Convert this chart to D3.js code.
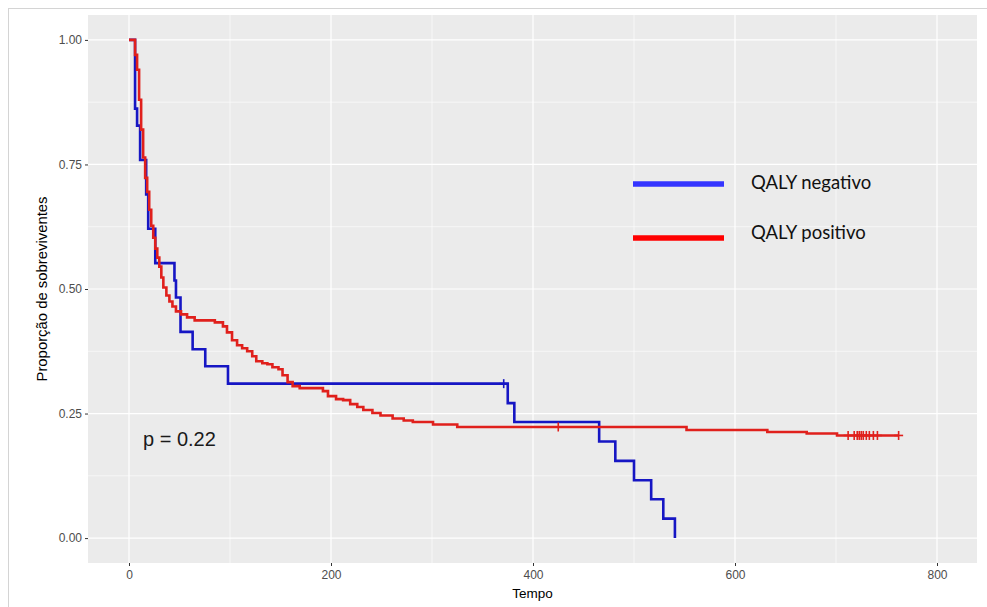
<!DOCTYPE html>
<html>
<head>
<meta charset="utf-8">
<script src="https://cdn.jsdelivr.net/npm/d3@7"></script>
<style>
  body { margin: 0; background: #fff; }
  svg { display: block; }
  .tick text { font-family: "Liberation Sans", Arial, sans-serif; font-size: 12px; fill: #4d4d4d; }
  .tick line { stroke: #333; }
</style>
</head>
<body>
<div id="chart"></div>
<script>
'use strict';

// QALY negativo (blue)
const negTimes = [0, 6, 8, 11, 17, 19, 26, 45, 46.5, 51, 63, 75.5, 98, 375, 381.5, 465.5, 481.5, 500, 517, 529, 540.5];
const negSurv = [1, 0.862, 0.828, 0.759, 0.690, 0.621, 0.552, 0.517, 0.483, 0.414, 0.379, 0.345, 0.310, 0.271, 0.233, 0.194, 0.155, 0.116, 0.078, 0.039, 0];
const negCensor = [371];

// QALY positivo (red)
const posTimes = [0, 6, 8, 10, 12, 14, 16, 18, 20, 22, 24, 26, 28, 30, 32, 34, 37, 40, 43, 46.5, 51.5, 57.5, 65, 85, 93, 97,
  102, 107, 112, 117, 122, 126, 132, 137, 142, 148, 152, 157, 162, 169, 192, 197, 205, 212, 219, 226, 232, 241, 249,
  261, 272, 281, 301, 325, 552, 632, 671, 701, 762];
const posSurv = [1, 0.970, 0.940, 0.880, 0.820, 0.764, 0.723, 0.695, 0.659, 0.627, 0.603, 0.581, 0.563, 0.545, 0.523, 0.503,
  0.487, 0.475, 0.465, 0.455, 0.449, 0.443, 0.437, 0.433, 0.425, 0.413, 0.397, 0.387, 0.381, 0.375, 0.365, 0.355,
  0.351, 0.349, 0.343, 0.339, 0.327, 0.313, 0.305, 0.301, 0.295, 0.285, 0.279, 0.277, 0.269, 0.263, 0.257, 0.251,
  0.246, 0.240, 0.236, 0.233, 0.228, 0.223, 0.217, 0.213, 0.210, 0.206, 0.206];
const posCensor = [425, 712, 718, 721, 723, 725, 727, 730, 733, 737, 741, 762];

const xTicks = [0, 200, 400, 600, 800];
const xMinor = [100, 300, 500, 700];
const yTicks = [0, 0.25, 0.5, 0.75, 1];
const yMinor = [0.125, 0.375, 0.625, 0.875];

const legendLabels = ["QALY negativo", "QALY positivo"];
const pValueText = "p = 0.22";

(function () {
	const width = 987, height = 607;
	const panel = {left: 88, right: 977, top: 15, bottom: 563};

	const svg = d3.select("#chart").append("svg")
		.attr("width", width)
		.attr("height", height);

	// screenshot frame
	svg.append("rect")
		.attr("x", 8.5).attr("y", 8.5)
		.attr("width", 1000).attr("height", 700)
		.attr("fill", "none")
		.attr("stroke", "#d4d4d4");

	const x = d3.scaleLinear().domain([-40.6, 839.6]).range([panel.left, panel.right]);
	const y = d3.scaleLinear().domain([-0.05, 1.05]).range([panel.bottom, panel.top]);

	svg.append("rect")
		.attr("x", panel.left).attr("y", panel.top)
		.attr("width", panel.right - panel.left)
		.attr("height", panel.bottom - panel.top)
		.attr("fill", "#ebebeb");

	const grid = svg.append("g").attr("stroke", "#fff");
	grid.selectAll("line.xminor").data(xMinor).enter().append("line")
		.attr("x1", d => x(d)).attr("x2", d => x(d))
		.attr("y1", panel.top).attr("y2", panel.bottom)
		.attr("stroke-width", 0.6);
	grid.selectAll("line.yminor").data(yMinor).enter().append("line")
		.attr("y1", d => y(d)).attr("y2", d => y(d))
		.attr("x1", panel.left).attr("x2", panel.right)
		.attr("stroke-width", 0.6);
	grid.selectAll("line.xmajor").data(xTicks).enter().append("line")
		.attr("x1", d => x(d)).attr("x2", d => x(d))
		.attr("y1", panel.top).attr("y2", panel.bottom)
		.attr("stroke-width", 1.2);
	grid.selectAll("line.ymajor").data(yTicks).enter().append("line")
		.attr("y1", d => y(d)).attr("y2", d => y(d))
		.attr("x1", panel.left).attr("x2", panel.right)
		.attr("stroke-width", 1.2);

	// axes
	const xAxis = svg.append("g")
		.attr("transform", `translate(0, ${panel.bottom})`)
		.call(d3.axisBottom(x).tickValues(xTicks).tickFormat(d3.format("d")).tickSize(3).tickPadding(4));
	xAxis.select(".domain").remove();

	const yAxis = svg.append("g")
		.attr("transform", `translate(${panel.left}, 0)`)
		.call(d3.axisLeft(y).tickValues(yTicks).tickFormat(d3.format(".2f")).tickSize(3).tickPadding(3));
	yAxis.select(".domain").remove();

	svg.append("text")
		.attr("x", (panel.left + panel.right) / 2)
		.attr("y", 598)
		.attr("text-anchor", "middle")
		.style("font-family", "Liberation Sans, Arial, sans-serif")
		.style("font-size", "13.5px")
		.text("Tempo");

	svg.append("text")
		.attr("transform", `translate(47, ${(panel.top + panel.bottom) / 2}) rotate(-90)`)
		.attr("text-anchor", "middle")
		.attr("textLength", 185)
		.attr("lengthAdjust", "spacingAndGlyphs")
		.style("font-family", "Liberation Sans, Arial, sans-serif")
		.style("font-size", "14px")
		.text("Proporção de sobreviventes");

	// survival curves
	const line = d3.line()
		.x(d => x(d[0]))
		.y(d => y(d[1]))
		.curve(d3.curveStepAfter);

	const series = [
		{times: negTimes, surv: negSurv, censor: negCensor, color: "#1616c4"},
		{times: posTimes, surv: posSurv, censor: posCensor, color: "#e0201c"}
	];

	const survAt = (s, t) => {
		let v = 1;
		s.times.forEach((tt, i) => { if (tt <= t) v = s.surv[i]; });
		return v;
	};

	series.forEach(s => {
		const pts = s.times.map((t, i) => [t, s.surv[i]]);
		svg.append("path")
			.datum(pts)
			.attr("d", line)
			.attr("fill", "none")
			.attr("stroke", s.color)
			.attr("stroke-width", 2.6);

		const g = svg.append("g").attr("stroke", s.color).attr("stroke-width", 1.6);
		s.censor.forEach(t => {
			const cx = x(t), cy = y(survAt(s, t));
			g.append("line").attr("x1", cx - 4.5).attr("x2", cx + 4.5).attr("y1", cy).attr("y2", cy);
			g.append("line").attr("x1", cx).attr("x2", cx).attr("y1", cy - 4.5).attr("y2", cy + 4.5);
		});
	});

	// p value
	svg.append("text")
		.attr("x", 143)
		.attr("y", 446)
		.style("font-family", "Liberation Sans, Arial, sans-serif")
		.style("font-size", "20px")
		.style("fill", "#1a1a1a")
		.text(pValueText);

	// legend (pasted on top)
	const legendColors = ["#3434ff", "#ff0000"];
	const legendY = [184, 238];
	const legend = svg.append("g");
	legendLabels.forEach((lab, i) => {
		legend.append("line")
			.attr("x1", 633).attr("x2", 724)
			.attr("y1", legendY[i]).attr("y2", legendY[i])
			.attr("stroke", legendColors[i])
			.attr("stroke-width", 5.5);
		legend.append("text")
			.attr("x", 751)
			.attr("y", legendY[i] + (i === 0 ? 5 : 1))
			.style("font-family", "Lato, sans-serif")
			.style("font-size", "18.5px")
			.style("fill", "#111")
			.text(lab);
	});
})();
</script>
</body>
</html>
